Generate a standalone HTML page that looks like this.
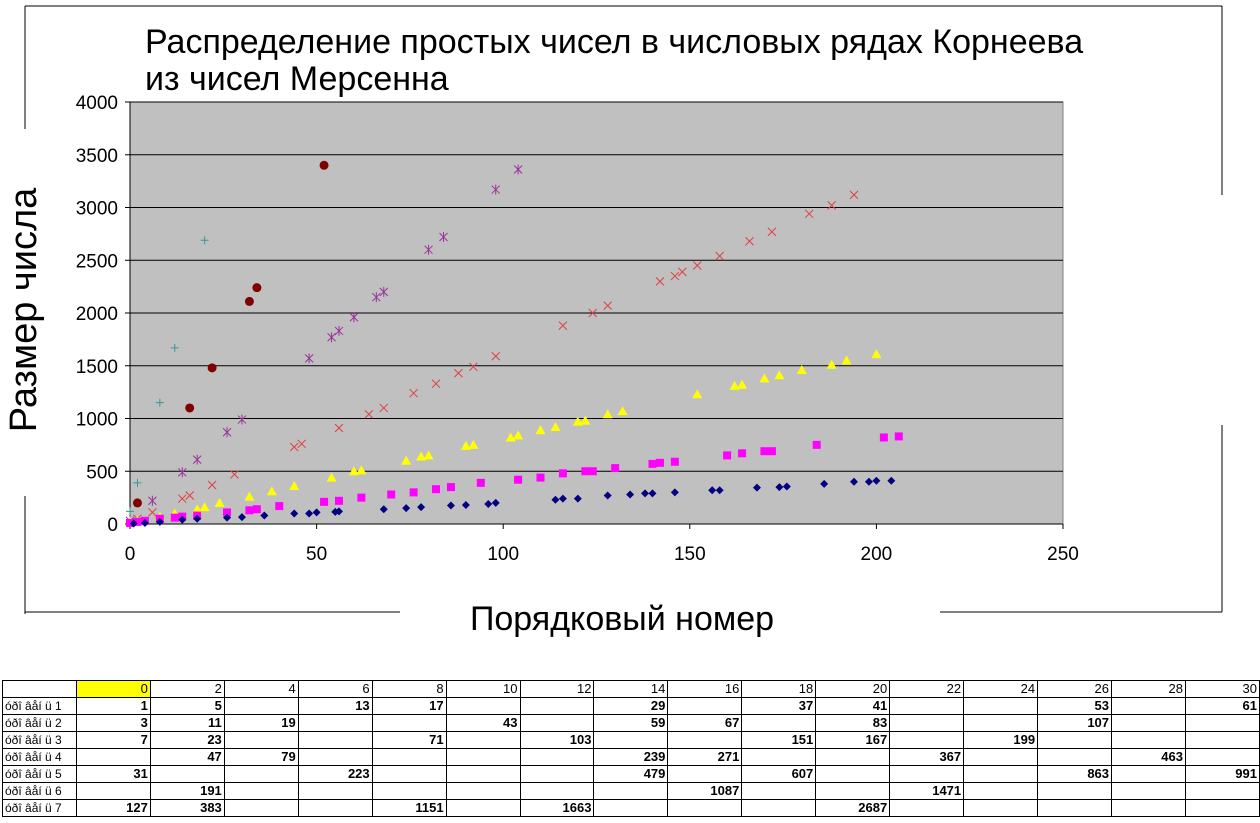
<!DOCTYPE html>
<html><head><meta charset="utf-8"><style>
body{margin:0;background:#fff;width:1260px;height:823px;overflow:hidden;font-family:"Liberation Sans",sans-serif}
svg{position:absolute;left:0;top:0}
table{position:absolute;left:2px;top:680px;border-collapse:collapse;font-family:"Liberation Sans",sans-serif;font-size:13px}
td{border:1px solid #000;height:16px;padding:0 2px;text-align:right;width:69px;font-weight:bold;line-height:16px}
td.l{width:69px;text-align:left;font-weight:normal;font-size:12px}
tr.h td{font-weight:normal}
</style></head><body>
<svg id="chart" width="1260" height="680"></svg>
<table id="tbl"></table>
<script>
const xTicks=[0,50,100,150,200,250];
const yTicks=[0,500,1000,1500,2000,2500,3000,3500,4000];
const s1x=[1,4,8,14,18,26,30,36,44,48,50,55,56,68,74,78,86,90,96,98,114,116,120,128,134,138,140,146,156,158,168,174,176,186,194,198,200,204];
const s1y=[5,10,20,40,50,60,65,80,100,100,110,115,120,140,150,160,175,180,190,200,230,240,240,270,280,290,290,300,320,320,345,350,355,380,400,400,410,410];
const s2x=[0,2,4,8,12,14,18,26,32,34,40,52,56,62,70,76,82,86,94,104,110,116,122,124,130,140,142,146,160,164,170,172,184,202,206];
const s2y=[10,20,30,50,60,70,80,110,130,140,170,210,220,250,280,300,330,350,390,420,440,480,500,500,530,570,580,590,650,670,690,690,750,820,830];
const s3x=[0,2,8,12,18,20,24,32,38,44,54,60,62,74,78,80,90,92,102,104,110,114,120,122,128,132,152,162,164,170,174,180,188,192,200];
const s3y=[20,30,70,100,140,160,200,260,310,360,440,500,510,600,640,650,740,750,820,840,890,920,970,980,1040,1070,1230,1310,1320,1380,1410,1460,1510,1550,1610];
const s4x=[2,6,14,16,22,28,44,46,56,64,68,76,82,88,92,98,116,124,128,142,146,148,152,158,166,172,182,188,194];
const s4y=[50,110,240,270,370,470,730,760,910,1040,1100,1240,1330,1430,1490,1590,1880,2000,2070,2300,2350,2390,2450,2540,2680,2770,2940,3020,3120];
const s5x=[0,6,14,18,26,30,48,54,56,60,66,68,80,84,98,104];
const s5y=[30,220,490,610,870,990,1570,1770,1830,1960,2150,2200,2600,2720,3170,3360];
const s6x=[0,2,8,12,20];
const s6y=[120,390,1150,1670,2690];
const s7x=[2,16,22,32,34,52];
const s7y=[200,1100,1480,2110,2240,3400];
const tblHead=[0,2,4,6,8,10,12,14,16,18,20,22,24,26,28,30];
const tblRows=[
["","1","5","","13","17","","","29","","37","41","","","53","","61"],
["","3","11","19","","","43","","59","67","","83","","","107","",""],
["","7","23","","","71","","103","","","151","167","","199","","",""],
["","","47","79","","","","","239","271","","","367","","","463",""],
["","31","","","223","","","","479","","607","","","","863","","991"],
["","","191","","","","","","","1087","","","1471","","","",""],
["","127","383","","","1151","","1663","","","","2687","","","","",""]];
const NS="http://www.w3.org/2000/svg",svg=document.getElementById('chart');
const X0=130,X1=1063,Y0=524,Y1=102;
const sx=v=>X0+v/250*(X1-X0), sy=v=>Y0-v/4000*(Y0-Y1);
function mk(t,a,p){const e=document.createElementNS(NS,t);for(const k in a)e.setAttribute(k,a[k]);(p||svg).appendChild(e);return e;}
[[25,6,1222,6],[25,6,25,129],[25,496,25,614],[1222,6,1222,195],[1222,425,1222,612],[25,612,400,612],[940,612,1222,612]].forEach(l=>{
const e=mk('line',{x1:l[0],y1:l[1],x2:l[2],y2:l[3],stroke:'#000','stroke-width':1});

});
const bg=mk('rect',{x:X0,y:Y1,width:X1-X0,height:Y0-Y1,fill:'#c0c0c0',stroke:'#808080'});


yTicks.forEach(v=>{const g=mk('line',{x1:X0-5,x2:X1,y1:sy(v),y2:sy(v),stroke:'#000'});


const t=mk('text',{x:X0-12,y:sy(v)+7,'text-anchor':'end','font-size':19});t.textContent=v;

});
mk('line',{x1:X0,x2:X0,y1:Y1,y2:Y0+5,stroke:'#000'});
xTicks.forEach(v=>{mk('line',{x1:sx(v),x2:sx(v),y1:Y0,y2:Y0+5,stroke:'#000'});
const t=mk('text',{x:sx(v),y:560,'text-anchor':'middle','font-size':19});t.textContent=v;

});
function T(x,y,s,txt,name,rot){const t=mk('text',{x:x,y:y,'font-size':s});if(rot){t.setAttribute('transform',rot);t.setAttribute('text-anchor','middle');}t.textContent=txt;

return t;}
T(145,53,34,'Распределение простых чисел в числовых рядах Корнеева','chart-title');
T(145,90,34,'из чисел Мерсенна','chart-title-line2');
const xt=T(622,630,34,'Порядковый номер','x-axis-title');xt.setAttribute('text-anchor','middle');
T(0,0,38,'Размер числа','y-axis-title','translate(36,310) rotate(-90)');
function draw(xs,ys,kind,color,name){xs.forEach((xv,i)=>{const x=sx(xv),y=sy(ys[i]);let e;
if(kind=='d')e=mk('polygon',{points:`${x},${y-4} ${x+4},${y} ${x},${y+4} ${x-4},${y}`,fill:color});
else if(kind=='s')e=mk('rect',{x:x-4,y:y-4,width:8,height:8,fill:color});
else if(kind=='t')e=mk('polygon',{points:`${x},${y-5} ${x+5},${y+4} ${x-5},${y+4}`,fill:color});
else if(kind=='c')e=mk('circle',{cx:x,cy:y,r:4.5,fill:color});
else if(kind=='x')e=mk('path',{d:`M${x-4} ${y-4}L${x+4} ${y+4}M${x+4} ${y-4}L${x-4} ${y+4}`,stroke:color,'stroke-width':1});
else if(kind=='a')e=mk('path',{d:`M${x-4} ${y-4}L${x+4} ${y+4}M${x+4} ${y-4}L${x-4} ${y+4}M${x} ${y-5}L${x} ${y+5}`,stroke:color,'stroke-width':1});
else e=mk('path',{d:`M${x-4} ${y}L${x+4} ${y}M${x} ${y-4}L${x} ${y+4}`,stroke:color,'stroke-width':1});

});}
draw(s7x,s7y,'c','#800000','point-row-7');
draw(s6x,s6y,'p','#339999','point-row-6');
draw(s5x,s5y,'a','#993399','point-row-5');
draw(s4x,s4y,'x','#e04040','point-row-4');
draw(s3x,s3y,'t','#ffff00','point-row-3');
draw(s2x,s2y,'s','#ff00ff','point-row-2');
draw(s1x,s1y,'d','#000080','point-row-1');
const tb=document.getElementById('tbl');
let h='<tr class="h"><td class="l"></td>'+tblHead.map((v,i)=>`<td${i==0?' style="background:#ffff00"':''}>${v}</td>`).join('')+'</tr>';
tblRows.forEach((r,i)=>{h+=`<tr><td class="l">óðî âåí ü ${i+1}</td>`+r.slice(1).map(v=>`<td>${v}</td>`).join('')+'</tr>';});
tb.innerHTML=h;
</script>
</body></html>
